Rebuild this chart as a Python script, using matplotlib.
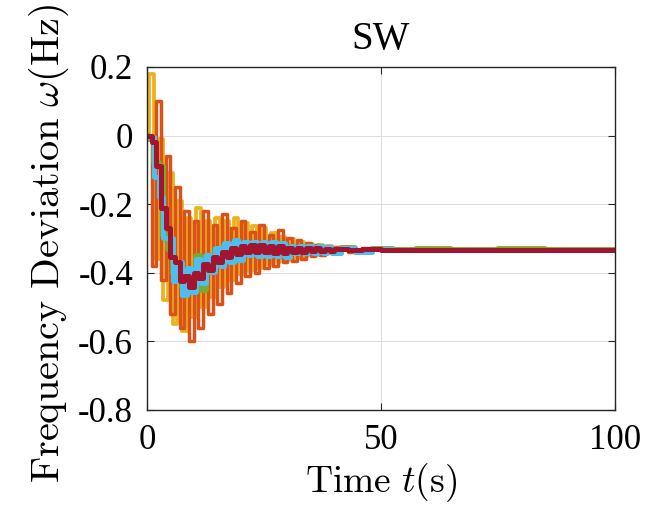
# Frequency deviation under SW - recreated chart
import matplotlib.pyplot as plt

plt.rcParams['mathtext.fontset'] = 'cm'
plt.rcParams['font.family'] = 'Liberation Serif'

# time samples (s)
t = [0, 1, 2, 3, 4, 5, 6, 7, 8, 9,
     10, 11, 12, 13, 14, 15, 16, 17, 18, 19,
     20, 21, 22, 23, 24, 25, 26, 27, 28, 29,
     30, 31, 32, 33, 34, 35, 36, 37, 38, 39,
     40, 43, 46, 50, 55, 60, 70, 80, 90, 100]

# frequency deviation of each unit (Hz)
w_orange = [0.000, -0.380, 0.100, -0.420, -0.060, -0.520, -0.150, -0.560, -0.220, -0.600,
            -0.250, -0.560, -0.220, -0.520, -0.260, -0.490, -0.230, -0.460, -0.270, -0.430,
            -0.250, -0.410, -0.280, -0.400, -0.260, -0.385, -0.290, -0.380, -0.275, -0.370,
            -0.300, -0.365, -0.305, -0.360, -0.312, -0.352, -0.318, -0.348, -0.322, -0.343,
            -0.326, -0.339, -0.329, -0.335, -0.333, -0.333, -0.333, -0.333, -0.333, -0.333]

w_yellow = [0.000, 0.180, -0.360, -0.010, -0.480, -0.110, -0.550, -0.190, -0.570, -0.240,
            -0.530, -0.210, -0.500, -0.250, -0.470, -0.240, -0.440, -0.250, -0.420, -0.240,
            -0.405, -0.255, -0.395, -0.265, -0.385, -0.270, -0.375, -0.285, -0.368, -0.295,
            -0.362, -0.302, -0.356, -0.310, -0.352, -0.315, -0.348, -0.320, -0.345, -0.323,
            -0.341, -0.327, -0.338, -0.331, -0.333, -0.333, -0.333, -0.333, -0.333, -0.333]

w_green = [0.000, -0.010, -0.080, -0.090, -0.290, -0.330, -0.400, -0.390, -0.440, -0.400,
           -0.440, -0.350, -0.450, -0.350, -0.390, -0.335, -0.370, -0.320, -0.355, -0.312,
           -0.352, -0.318, -0.342, -0.318, -0.345, -0.318, -0.344, -0.320, -0.345, -0.321,
           -0.345, -0.325, -0.341, -0.326, -0.341, -0.326, -0.340, -0.327, -0.340, -0.327,
           -0.339, -0.329, -0.337, -0.331, -0.335, -0.332, -0.334, -0.332, -0.334, -0.333]

w_cyan = [0.000, -0.005, -0.120, -0.180, -0.300, -0.300, -0.425, -0.370, -0.465, -0.385,
          -0.455, -0.360, -0.430, -0.348, -0.398, -0.328, -0.380, -0.313, -0.368, -0.304,
          -0.362, -0.310, -0.349, -0.309, -0.350, -0.310, -0.351, -0.311, -0.352, -0.312,
          -0.353, -0.323, -0.343, -0.323, -0.343, -0.323, -0.343, -0.323, -0.343, -0.324,
          -0.342, -0.328, -0.338, -0.332, -0.333, -0.333, -0.333, -0.333, -0.333, -0.333]

w_darkred = [0.000, -0.020, -0.090, -0.210, -0.270, -0.355, -0.370, -0.425, -0.410, -0.440,
             -0.400, -0.415, -0.375, -0.393, -0.353, -0.368, -0.340, -0.353, -0.328, -0.344,
             -0.322, -0.340, -0.319, -0.339, -0.320, -0.340, -0.321, -0.341, -0.322, -0.342,
             -0.328, -0.338, -0.328, -0.338, -0.329, -0.337, -0.329, -0.337, -0.330, -0.336,
             -0.330, -0.335, -0.332, -0.334, -0.333, -0.333, -0.333, -0.333, -0.333, -0.333]

fig = plt.figure(figsize=(6.64, 5.11), dpi=100)
ax = fig.add_axes([0.2214, 0.1977, 0.7048, 0.6712])

# yellow and orange steps are offset so both sets of bars show
ax.plot(t, w_yellow, color='#EDB120', lw=2.7, drawstyle='steps-mid')
ax.plot(t, w_orange, color='#D95319', lw=2.5, drawstyle='steps-post')
ax.plot(t, w_green, color='#77AC30', lw=4.2, drawstyle='steps-mid')
ax.plot(t, w_cyan, color='#4DBEEE', lw=3.6, drawstyle='steps-mid')
ax.plot(t, w_darkred, color='#A2142F', lw=3.6, drawstyle='steps-post')

ax.set_xlim(0, 100)
ax.set_ylim(-0.8, 0.2)
ax.set_xticks([0, 50, 100])
ax.set_yticks([-0.8, -0.6, -0.4, -0.2, 0, 0.2])
ax.set_yticklabels(['-0.8', '-0.6', '-0.4', '-0.2', '0', '0.2'])
ax.tick_params(direction='in', top=True, right=True, labelsize=25, length=5,
               color='#262626', pad=10)
ax.grid(True, color='#DCDCDC', lw=0.7)
ax.set_axisbelow(True)
for s in ax.spines.values():
    s.set_color('#262626')
    s.set_linewidth(1.0)

ax.set_title('SW', fontsize=28, pad=13)
ax.set_xlabel(r'$\mathrm{Time}\ t(\mathrm{s})$', fontsize=27, labelpad=3)
ax.set_ylabel(r'$\mathrm{Frequency\ Deviation}\ \omega(\mathrm{Hz})$', fontsize=29, labelpad=5)
ax.yaxis.label.set_y(0.487)

fig.savefig('out.png', dpi=100)
